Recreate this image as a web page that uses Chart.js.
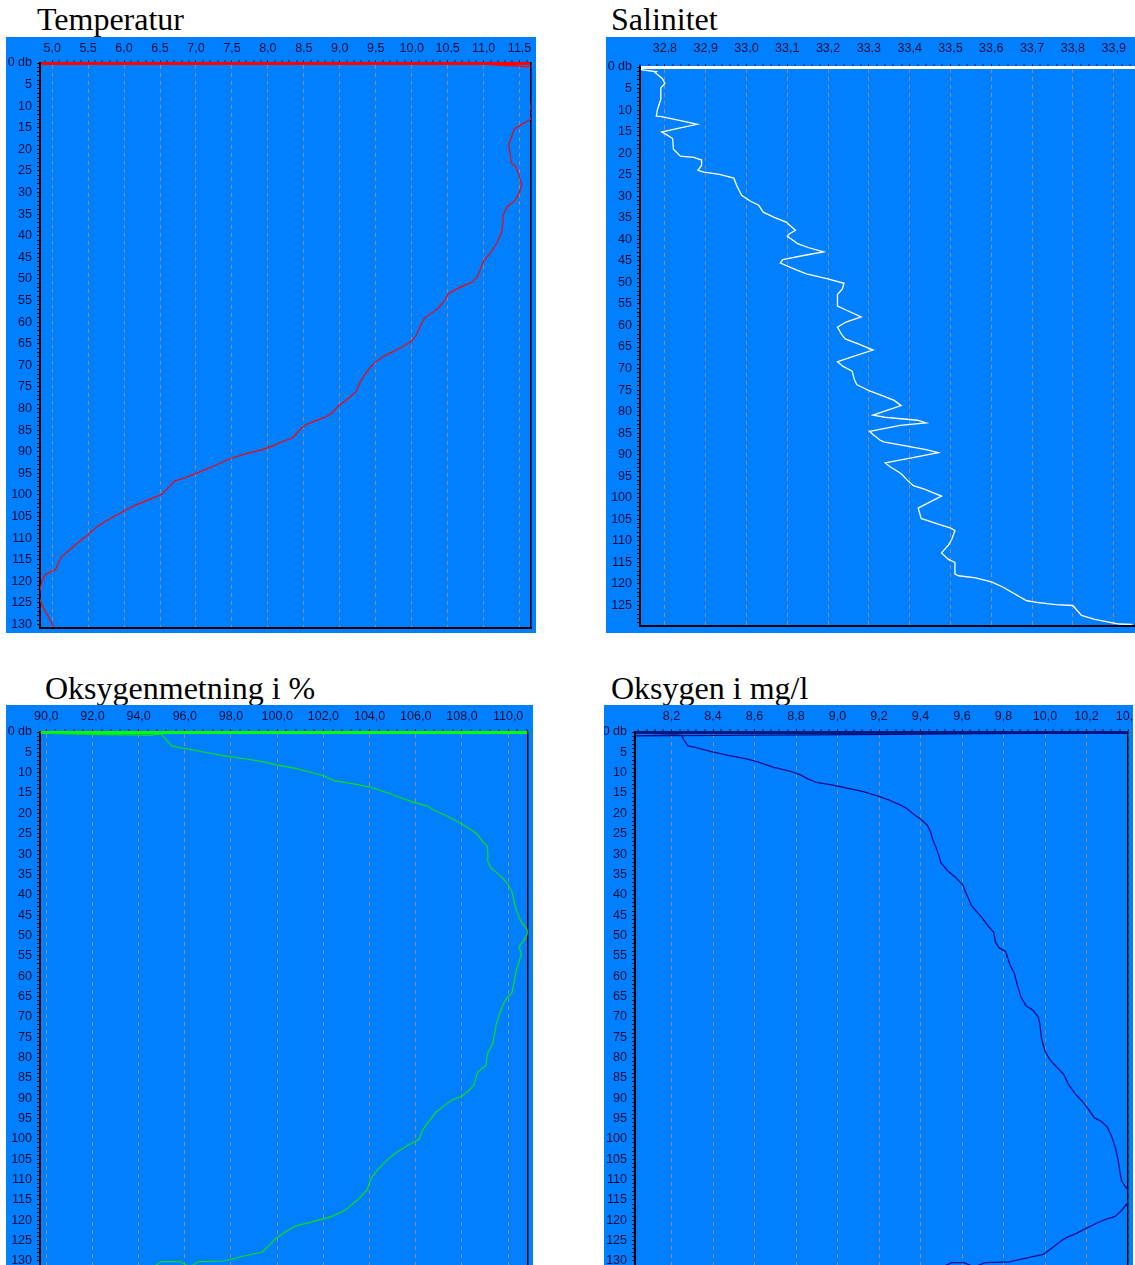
<!DOCTYPE html>
<html>
<head>
<meta charset="utf-8">
<script src="https://cdn.jsdelivr.net/npm/chart.js@4.4.1/dist/chart.umd.min.js"></script>
<style>
  html, body { margin: 0; padding: 0; width: 1135px; height: 1265px; overflow: hidden; background: #fff; }
  .title { position: absolute; font-family: "Liberation Serif", "Times New Roman", serif; font-size: 32px; line-height: 32px; color: #000; white-space: nowrap; }
  canvas { position: absolute; background: #0080ff; }
</style>
</head>
<body>
<div class="title" style="left:37px;top:3px">Temperatur</div>
<div class="title" style="left:611px;top:3px">Salinitet</div>
<div class="title" style="left:45px;top:672px">Oksygenmetning i %</div>
<div class="title" style="left:611px;top:672px">Oksygen i mg/l</div>

<canvas id="cTemp" width="530" height="596" style="left:6px;top:37px"></canvas>
<canvas id="cSal" width="540" height="596" style="left:606px;top:37px"></canvas>
<canvas id="cOxPct" width="527" height="567" style="left:6px;top:705px"></canvas>
<canvas id="cOxMg" width="529" height="567" style="left:604px;top:705px"></canvas>

<script>
// CTD profile: depth in decibar, one value array per parameter

// Temperature (°C)
const tempDepth = [0.3, 0.5, 0.8, 1.0, 3, 6, 8, 10, 12, 13.0, 15.2, 18.4, 19.2, 22.1, 23.0, 24.1, 25.9, 28.1, 29.9, 31.8, 33.2, 35.2, 37.0, 39.2, 41.8, 44.1, 45.8, 48.0, 49.6, 50.7, 52.0, 53.4, 54.7, 56.6, 57.5, 59.0, 60.9, 63.1, 64.2, 65.5, 67.0, 68.0, 69.3, 70.7, 72.3, 74.0, 76.2, 78.2, 79.5, 80.9, 81.9, 82.9, 83.8, 84.8, 86.8, 87.8, 88.7, 89.5, 90.3, 91.5, 93.3, 95.3, 96.2, 96.8, 98.6, 99.9, 100.8, 102.4, 103.9, 106.1, 107.4, 109.2, 111.4, 114.5, 117.2, 118.5, 119.9, 121.2, 123.4, 125.2, 127.4, 130.5];
const tempValue = [11.05, 11.2, 11.55, 11.7, 11.75, 11.72, 11.68, 11.655, 11.665, 11.655, 11.43, 11.36, 11.35, 11.38, 11.38, 11.45, 11.49, 11.53, 11.5, 11.44, 11.33, 11.27, 11.27, 11.25, 11.18, 11.09, 11.0, 10.95, 10.91, 10.84, 10.66, 10.51, 10.47, 10.38, 10.31, 10.18, 10.12, 10.06, 10.01, 9.89, 9.72, 9.6, 9.49, 9.41, 9.34, 9.28, 9.22, 9.08, 8.97, 8.9, 8.81, 8.65, 8.52, 8.45, 8.34, 8.18, 8.06, 7.92, 7.73, 7.49, 7.25, 6.96, 6.82, 6.7, 6.6, 6.52, 6.39, 6.15, 5.98, 5.74, 5.62, 5.5, 5.33, 5.12, 5.05, 4.9, 4.86, 4.84, 4.82, 4.85, 4.92, 5.02];
const tempTicks = [5.0, 5.5, 6.0, 6.5, 7.0, 7.5, 8.0, 8.5, 9.0, 9.5, 10.0, 10.5, 11.0, 11.5];

// Salinity
const salDepth = [0.6, 1.1, 1.3, 2.7, 3.8, 4.9, 7.5, 9.8, 11.4, 11.5, 12.7, 13.3, 14.2, 15.1, 15.7, 16.6, 19.1, 20.7, 21.0, 21.6, 22.8, 24.0, 24.4, 24.9, 25.8, 27.5, 29.8, 31.1, 32.1, 33.7, 34.9, 36.0, 36.9, 37.9, 38.8, 39.3, 40.2, 41.0, 41.9, 42.9, 43.7, 44.7, 45.5, 47.1, 48.0, 49.1, 50.2, 51.5, 52.8, 55.5, 56.4, 58.0, 59.2, 60.4, 62.2, 63.1, 64.4, 65.7, 67.1, 68.4, 69.5, 70.6, 72.4, 73.7, 75.2, 76.4, 77.4, 78.6, 80.8, 81.3, 82.0, 82.6, 83.2, 84.6, 85.3, 86.6, 87.0, 87.7, 88.8, 89.5, 90.6, 91.9, 92.8, 94.0, 94.6, 95.9, 97.2, 98.0, 99.6, 101.0, 102.4, 104.8, 106.1, 107.0, 107.6, 109.7, 111.0, 112.8, 114.3, 115.0, 117.7, 118.1, 118.6, 119.6, 120.7, 123.9, 124.3, 124.8, 125.0, 127.3, 128.2, 129.3, 129.4];
const salValue = [32.741, 32.779, 32.776, 32.794, 32.8, 32.79, 32.79, 32.782, 32.779, 32.792, 32.85, 32.879, 32.835, 32.792, 32.804, 32.819, 32.821, 32.838, 32.871, 32.89, 32.89, 32.881, 32.896, 32.934, 32.969, 32.976, 32.988, 33.009, 33.03, 33.041, 33.068, 33.097, 33.108, 33.12, 33.104, 33.1, 33.114, 33.125, 33.151, 33.189, 33.143, 33.089, 33.083, 33.122, 33.147, 33.197, 33.239, 33.235, 33.223, 33.223, 33.244, 33.281, 33.244, 33.223, 33.234, 33.242, 33.277, 33.31, 33.264, 33.223, 33.237, 33.259, 33.264, 33.27, 33.302, 33.336, 33.362, 33.379, 33.31, 33.339, 33.419, 33.44, 33.377, 33.302, 33.31, 33.327, 33.336, 33.377, 33.44, 33.47, 33.411, 33.34, 33.352, 33.373, 33.381, 33.394, 33.409, 33.436, 33.478, 33.449, 33.421, 33.428, 33.47, 33.499, 33.511, 33.503, 33.495, 33.478, 33.495, 33.511, 33.511, 33.52, 33.562, 33.602, 33.628, 33.687, 33.712, 33.758, 33.8, 33.821, 33.854, 33.913, 33.946];
const salTicks = [32.8, 32.9, 33.0, 33.1, 33.2, 33.3, 33.4, 33.5, 33.6, 33.7, 33.8, 33.9];

// Oxygen saturation (%)
const oxyPctDepth = [0.1, 0.4, 0.6, 0.85, 0.55, 0.6, 0.9, 1.8, 3.4, 4.0, 4.4, 5.1, 6.0, 6.7, 7.3, 8.1, 9.0, 9.9, 10.8, 12.0, 12.4, 13.0, 13.7, 15.1, 16.4, 17.3, 18.2, 19.3, 20.4, 21.7, 22.6, 23.9, 25.2, 27.0, 27.9, 29.2, 31.9, 33.5, 34.5, 36.0, 37.6, 39.1, 41.2, 43.0, 44.7, 46.8, 48.0, 49.2, 51.2, 52.7, 54.5, 56.7, 58.9, 62.0, 64.2, 65.4, 66.9, 69.1, 71.7, 74.0, 76.6, 78.8, 81.9, 83.7, 86.8, 88.1, 89.5, 90.5, 91.7, 93.4, 96.1, 97.9, 100.1, 101.7, 103.6, 105.4, 107.6, 109.8, 112.5, 114.7, 117.6, 119.1, 120.5, 121.3, 122.7, 124.4, 125.8, 127.8, 128.9, 130.0, 130.15, 131.5, 130.15, 130.15, 131.6];
const oxyPctValue = [89.75, 90.4, 92.0, 94.6, 94.65, 95.0, 95.05, 95.18, 95.44, 95.92, 96.37, 96.96, 97.86, 98.75, 99.35, 99.99, 100.84, 101.44, 102.04, 102.48, 102.93, 103.53, 104.12, 104.87, 105.47, 105.91, 106.51, 106.81, 107.26, 107.7, 108.0, 108.37, 108.67, 108.9, 109.08, 109.12, 109.12, 109.27, 109.49, 109.79, 110.01, 110.16, 110.24, 110.31, 110.42, 110.57, 110.76, 110.86, 110.69, 110.46, 110.57, 110.46, 110.34, 110.24, 110.16, 109.94, 109.79, 109.64, 109.49, 109.42, 109.34, 109.12, 109.04, 108.67, 108.52, 108.3, 108.0, 107.55, 107.26, 106.88, 106.51, 106.29, 106.14, 105.62, 105.09, 104.72, 104.35, 104.05, 103.9, 103.53, 102.93, 102.33, 101.44, 100.84, 100.4, 99.95, 99.72, 99.35, 98.46, 97.71, 96.6, 96.2, 95.8, 95.0, 94.6];
const oxyPctTicks = [90, 92, 94, 96, 98, 100, 102, 104, 106, 108, 110];

// Dissolved oxygen (mg/l)
const oxyMgDepth = [0.2, 0.4, 0.6, 0.85, 0.95, 0.7, 0.8, 1.8, 3.4, 3.8, 4.9, 5.8, 6.6, 7.5, 8.7, 9.7, 10.6, 11.5, 12.4, 13.0, 13.7, 14.6, 15.8, 16.8, 17.9, 18.8, 20.2, 21.4, 22.9, 24.6, 26.1, 28.3, 30.6, 32.1, 34.1, 35.9, 37.7, 39.9, 42.7, 45.6, 47.8, 49.2, 51.6, 53.0, 54.0, 56.2, 57.6, 59.3, 62.4, 65.1, 67.3, 68.4, 70.0, 71.7, 75.3, 78.4, 80.6, 82.4, 84.1, 86.8, 89.0, 90.8, 92.6, 94.8, 95.7, 97.0, 99.2, 102.3, 105.4, 108.1, 110.3, 111.6, 112.7, 114.3, 115.6, 117.6, 119.1, 119.7, 120.6, 122.0, 123.1, 124.2, 124.9, 126.2, 127.5, 128.4, 129.3, 130.2, 130.4, 131.5, 130.4, 130.4, 131.6];
const oxyMgValue = [10.45, 9.7, 9.28, 8.44, 8.03, 8.22, 8.249, 8.258, 8.279, 8.315, 8.397, 8.479, 8.562, 8.627, 8.693, 8.775, 8.824, 8.857, 8.898, 8.972, 9.038, 9.12, 9.2, 9.252, 9.301, 9.334, 9.367, 9.4, 9.433, 9.449, 9.457, 9.474, 9.49, 9.498, 9.531, 9.572, 9.605, 9.622, 9.646, 9.696, 9.728, 9.753, 9.761, 9.778, 9.811, 9.824, 9.835, 9.852, 9.868, 9.884, 9.909, 9.942, 9.967, 9.975, 9.983, 10.0, 10.024, 10.057, 10.09, 10.115, 10.147, 10.18, 10.208, 10.238, 10.271, 10.299, 10.32, 10.34, 10.353, 10.361, 10.369, 10.386, 10.402, 10.41, 10.4, 10.369, 10.336, 10.295, 10.254, 10.197, 10.156, 10.106, 10.082, 10.049, 10.016, 9.991, 9.909, 9.827, 9.71, 9.66, 9.61, 9.55, 9.5];
const oxyMgTicks = [8.2, 8.4, 8.6, 8.8, 9.0, 9.2, 9.4, 9.6, 9.8, 10.0, 10.2, 10.4];

const labelColor = '#000c38';
const gridColor = '#968c82';
const tickFont = { family: '"Liberation Sans", Arial, sans-serif', size: 12.5 };

const fmt = v => v.toFixed(1).replace('.', ',');

// keep the plot area at the size given by afterFit (no label overhang padding)
function noPad(s) { s.paddingLeft = 0; s.paddingRight = 0; s.paddingTop = 0; s.paddingBottom = 0; }

function profileChart(id, o) {
  const n = Math.min(o.depth.length, o.value.length);
  const pts = [];
  for (let i = 0; i < n; i++) pts.push({ x: o.value[i], y: o.depth[i] });

  // five minor subdivisions per labelled interval along the top axis
  const step = (o.ticks[1] - o.ticks[0]) / 5;
  const k0 = Math.ceil((o.xMin - o.ticks[0]) / step - 1e-9);
  const k1 = Math.floor((o.xMax - o.ticks[0]) / step + 1e-9);
  const xTickVals = [];
  for (let k = k0; k <= k1; k++) xTickVals.push(+(o.ticks[0] + k * step).toFixed(6));
  const isMajor = v => o.ticks.some(t => Math.abs(t - v) < step / 10);

  // one depth mark per decibar, labelled every 5
  const yTickVals = [];
  for (let d = 0; d <= Math.floor(o.yMax); d++) yTickVals.push(d);

  return new Chart(document.getElementById(id), {
    type: 'scatter',
    data: {
      datasets: [{
        data: pts,
        showLine: true,
        borderColor: o.color,
        borderWidth: o.lineWidth,
        pointRadius: 0,
        pointHoverRadius: 0,
        tension: 0,
        fill: false
      }]
    },
    options: {
      responsive: false,
      animation: false,
      events: [],
      layout: { padding: { left: 0, top: 0, right: 4, bottom: o.padBottom } },
      plugins: { legend: { display: false }, tooltip: { enabled: false } },
      scales: {
        x: {
          type: 'linear', position: 'top', min: o.xMin, max: o.xMax,
          afterBuildTicks: s => { s.ticks = xTickVals.map(v => ({ value: v })); },
          afterFit: s => { s.height = o.axisTop; noPad(s); },
          ticks: {
            autoSkip: false, maxRotation: 0, minRotation: 0, padding: o.xPad,
            color: labelColor, font: tickFont,
            callback: v => isMajor(v) ? fmt(v) : ''
          },
          grid: {
            drawOnChartArea: true,
            lineWidth: c => (c.tick && isMajor(c.tick.value)) ? 1 : 0,
            color: gridColor,
            tickLength: 3, tickWidth: 1, tickColor: '#001030', tickBorderDash: []
          },
          border: { display: true, color: o.topColor, width: 3, dash: c => c.type === 'tick' ? [4, 4] : [] }
        },
        y: {
          type: 'linear', position: 'left', reverse: true, min: 0, max: o.yMax,
          afterBuildTicks: s => { s.ticks = yTickVals.map(v => ({ value: v })); },
          afterFit: s => { s.width = o.axisLeft; noPad(s); },
          ticks: {
            autoSkip: false, padding: 5, color: labelColor, font: tickFont,
            callback: v => v === 0 ? '0 db' : (v % 5 === 0 ? String(v) : '')
          },
          grid: { drawOnChartArea: false, tickLength: 3, tickWidth: 1, tickColor: '#000' },
          border: { display: true, color: '#000', width: 2 }
        },
        x2: {
          type: 'linear', axis: 'x', position: 'bottom', min: 0, max: 1,
          afterFit: s => { s.height = 1; noPad(s); },
          ticks: { display: false },
          grid: { display: false, drawTicks: false },
          border: { display: true, color: '#000', width: 2 }
        },
        y2: {
          type: 'linear', axis: 'y', position: 'right', min: 0, max: 1,
          afterFit: s => { s.width = 1; noPad(s); },
          ticks: { display: false },
          grid: { display: false, drawTicks: false },
          border: { display: true, color: '#000', width: 1.5 }
        }
      }
    }
  });
}

profileChart('cTemp', {
  depth: tempDepth, value: tempValue, ticks: tempTicks,
  xMin: 4.831, xMax: 11.659, yMax: 130.8,
  color: '#ff0000', topColor: '#ff0000', lineWidth: 1.2,
  axisTop: 26, axisLeft: 34, xPad: 4, padBottom: 4
});
profileChart('cSal', {
  depth: salDepth, value: salValue, ticks: salTicks,
  xMin: 32.739, xMax: 33.967, yMax: 129.76,
  color: '#ffffff', topColor: '#ffffff', lineWidth: 1.3,
  axisTop: 30, axisLeft: 34, xPad: 8, padBottom: 6
});
profileChart('cOxPct', {
  depth: oxyPctDepth, value: oxyPctValue, ticks: oxyPctTicks,
  xMin: 89.73, xMax: 110.86, yMax: 131.48,
  color: '#10e010', topColor: '#00ff00', lineWidth: 1.2,
  axisTop: 27, axisLeft: 34, xPad: 5, padBottom: 4
});
profileChart('cOxMg', {
  depth: oxyMgDepth, value: oxyMgValue, ticks: oxyMgTicks,
  xMin: 8.024, xMax: 10.4, yMax: 131.48,
  color: '#000c8c', topColor: '#001a80', lineWidth: 1.3,
  axisTop: 27, axisLeft: 31, xPad: 5, padBottom: 4
});
</script>
</body>
</html>
